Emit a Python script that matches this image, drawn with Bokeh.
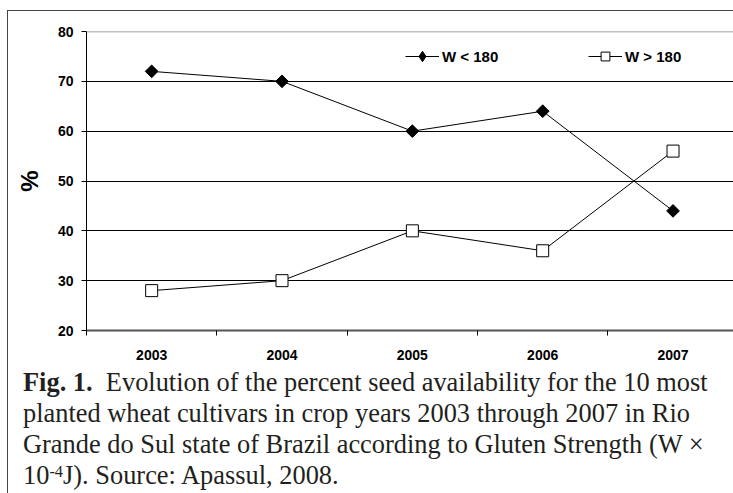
import math
from bokeh.plotting import figure
from bokeh.layouts import column
from bokeh.models import (FixedTicker, Range1d, Span, Legend, LegendItem, Div,
                          ColumnDataSource)
from bokeh.embed import file_html
from bokeh.resources import INLINE

# ---- data ----
years = ["2003", "2004", "2005", "2006", "2007"]
w_below_180 = [72, 70, 60, 64, 44]
w_above_180 = [28, 30, 40, 36, 56]
y_ticks = [20, 30, 40, 50, 60, 70, 80]
series_names = ["W < 180", "W > 180"]
caption_bold = "Fig. 1."
caption_lines = [
    "Evolution of the percent seed availability for the 10 most",
    "planted wheat cultivars in crop years 2003 through 2007 in Rio",
    "Grande do Sul state of Brazil according to Gluten Strength (W \u00d7",
    "10<span style='position:relative; top:-0.42em; font-size:0.62em; line-height:0'>-4</span>J). Source: Apassul, 2008.",
]

xs = [i + 0.5 for i in range(len(years))]
src = ColumnDataSource(dict(x=xs, lo=w_below_180, hi=w_above_180))

SANS = "'Liberation Sans', Arial, sans-serif"
SERIF = "'Liberation Serif', 'Times New Roman', serif"

p = figure(width=725, height=351, output_backend="svg", toolbar_location=None,
           x_range=Range1d(0, 4.964), y_range=Range1d(20, 80),
           min_border_left=78, min_border_right=0, min_border_top=20,
           min_border_bottom=31)
p.outline_line_color = None
p.background_fill_color = "white"
p.border_fill_color = "white"

# axes
p.xaxis.ticker = FixedTicker(ticks=xs, minor_ticks=list(range(len(years) + 1)))
p.xaxis.major_label_overrides = {x: y for x, y in zip(xs, years)}
p.xaxis.major_tick_out = 0
p.xaxis.major_tick_in = 0
p.xaxis.minor_tick_out = 5
p.xaxis.minor_tick_in = 0
p.xaxis.minor_tick_line_color = "black"
p.xaxis.axis_line_color = "#555555"
p.xaxis.axis_line_width = 2
p.xaxis.major_label_standoff = 14
p.xaxis.major_label_text_font = SANS
p.xaxis.major_label_text_font_style = "bold"
p.xaxis.major_label_text_font_size = "14px"
p.xaxis.major_label_text_color = "black"

p.yaxis.ticker = FixedTicker(ticks=y_ticks)
p.yaxis.major_tick_out = 5
p.yaxis.major_tick_in = 0
p.yaxis.minor_tick_out = 0
p.yaxis.axis_line_color = "black"
p.yaxis.major_label_standoff = 8
p.yaxis.major_label_text_font = SANS
p.yaxis.major_label_text_font_style = "bold"
p.yaxis.major_label_text_font_size = "14px"
p.yaxis.major_label_text_color = "black"
p.yaxis.axis_label = "%"
p.yaxis.axis_label_text_font = SANS
p.yaxis.axis_label_text_font_style = "bold"
p.yaxis.axis_label_text_font_size = "24px"
p.yaxis.axis_label_standoff = 12
p.yaxis.axis_label_text_color = "black"

p.xgrid.grid_line_color = None
p.ygrid.ticker = FixedTicker(ticks=y_ticks[1:-1])
p.ygrid.grid_line_color = "black"
p.ygrid.grid_line_width = 1
p.add_layout(Span(location=y_ticks[-1], dimension="width",
                  line_color="#808080", line_width=1.5))

# series
l1 = p.line("x", "lo", source=src, line_color="black", line_width=1)
m1 = p.scatter("x", "lo", source=src, marker="square", size=9, angle=math.pi / 4,
               fill_color="black", line_color="black")
l2 = p.line("x", "hi", source=src, line_color="black", line_width=1)
m2 = p.scatter("x", "hi", source=src, marker="square", size=12,
               fill_color="white", line_color="black", line_width=1)
# hidden renderer used only for the legend's diamond symbol
k1 = p.scatter("x", "lo", source=src, marker="diamond",
               fill_color="black", line_color="black", visible=False)

for rends, name, loc, gh in [([l1, k1], series_names[0], (319, 261), 26),
                             ([l2, m2], series_names[1], (502, 263), 22)]:
    lg = Legend(items=[LegendItem(label=name, renderers=rends)], location=loc,
                orientation="horizontal", glyph_width=34, glyph_height=gh,
                label_standoff=3, padding=0, margin=0, spacing=0,
                border_line_color=None, background_fill_alpha=0,
                inactive_fill_alpha=0,
                label_text_font=SANS, label_text_font_style="bold",
                label_text_font_size="15px", label_text_color="black",
                label_height=gh)
    p.add_layout(lg, "center")

# caption below the chart
html_lines = ["<b>%s</b>&nbsp;&nbsp;%s" % (caption_bold, caption_lines[0])] + caption_lines[1:]
caption = Div(
    text="<br>".join(html_lines),
    width=725, height=131,
    styles={"font-family": SERIF, "font-size": "26.4px", "line-height": "31px",
            "color": "#231f20", "white-space": "nowrap",
            "padding-left": "10px", "padding-top": "0px",
            "box-sizing": "border-box", "background": "white"},
)

layout = column(p, caption, spacing=0, margin=(10, 0, 0, 7),
                styles={"border-left": "1px solid #444",
                        "border-top": "1px solid #444"})

open("out.html", "w").write(file_html(layout, INLINE))
